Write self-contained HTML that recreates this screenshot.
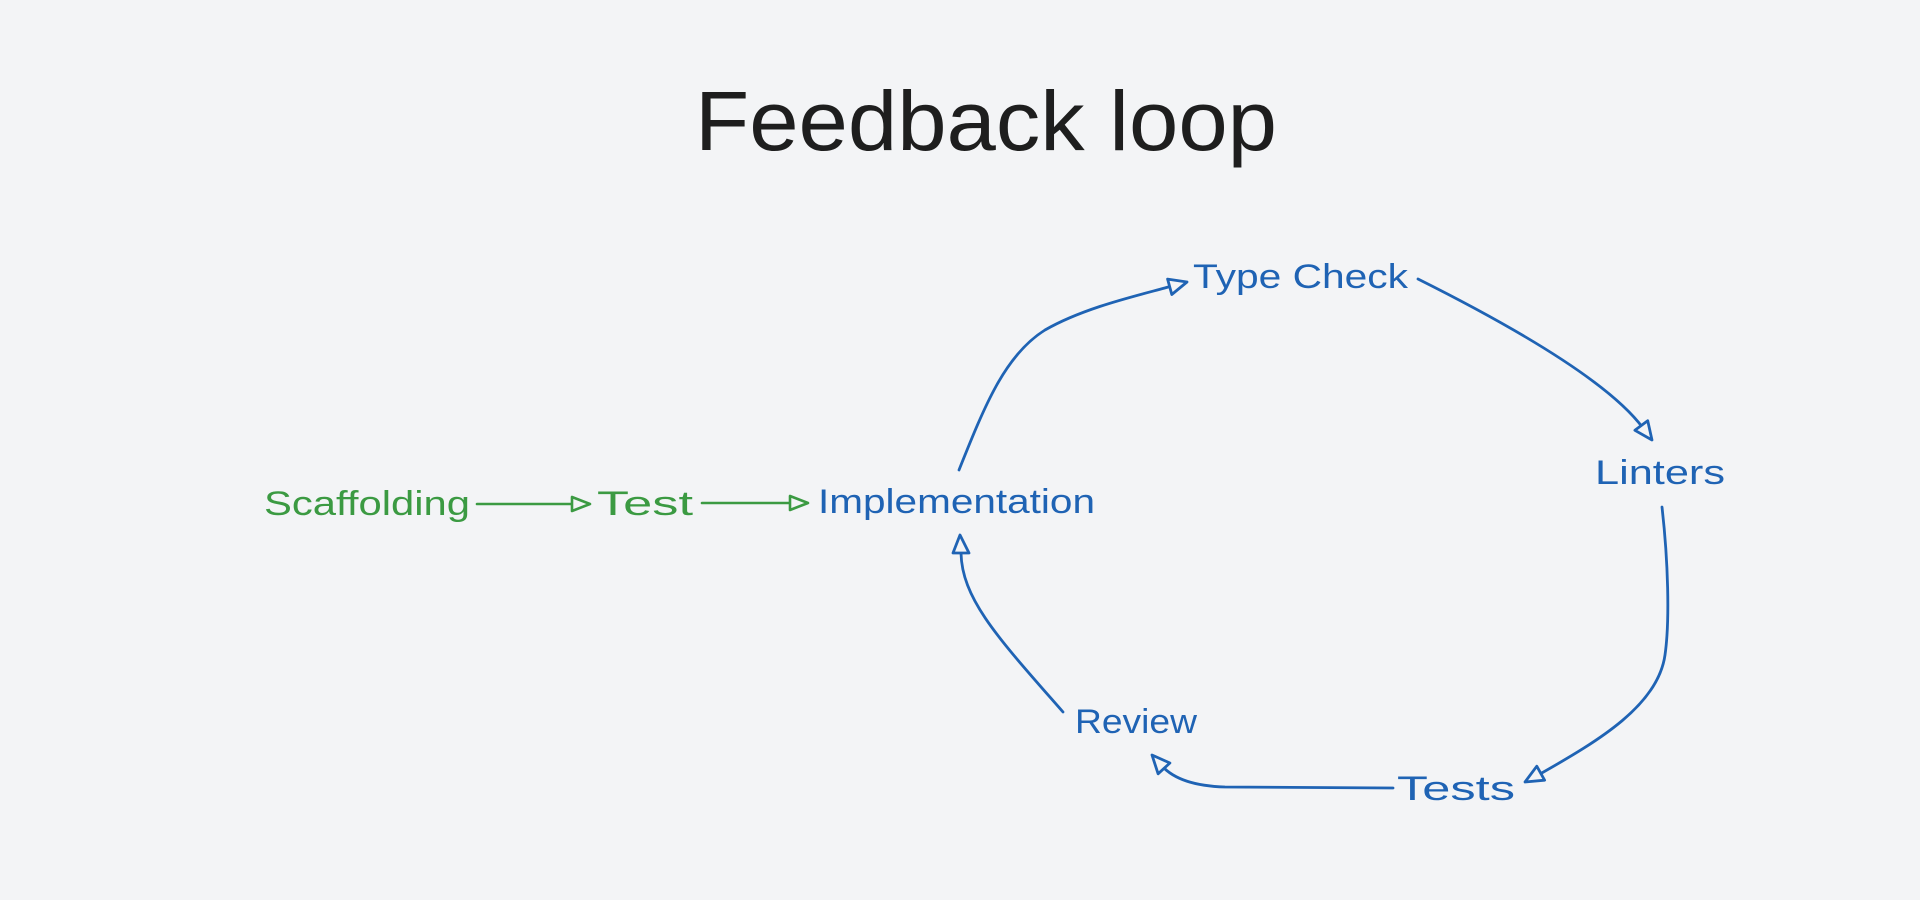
<!DOCTYPE html>
<html>
<head>
<meta charset="utf-8">
<style>
  html, body { margin: 0; padding: 0; background: #f3f4f6; }
  body { width: 1920px; height: 900px; overflow: hidden; }
  svg { display: block; }
  text { font-family: "Liberation Sans", "DejaVu Sans", sans-serif; }
</style>
</head>
<body>
<svg width="1920" height="900" viewBox="0 0 1920 900" xmlns="http://www.w3.org/2000/svg">
  <rect x="0" y="0" width="1920" height="900" fill="#f3f4f6"/>

  <!-- Title -->
  <text x="695" y="150" font-size="84" fill="#1e1e1e" textLength="582" lengthAdjust="spacingAndGlyphs">Feedback loop</text>

  <!-- Green labels -->
  <g fill="#3b9a42" font-size="34">
    <text x="264" y="515" textLength="206" lengthAdjust="spacingAndGlyphs">Scaffolding</text>
    <text x="597" y="515" textLength="96" lengthAdjust="spacingAndGlyphs">Test</text>
  </g>

  <!-- Blue labels -->
  <g fill="#1f63b4" font-size="34">
    <text x="818" y="513" textLength="277" lengthAdjust="spacingAndGlyphs">Implementation</text>
    <text x="1193" y="288" textLength="215" lengthAdjust="spacingAndGlyphs">Type Check</text>
    <text x="1595" y="484" textLength="130" lengthAdjust="spacingAndGlyphs">Linters</text>
    <text x="1397" y="800" textLength="118" lengthAdjust="spacingAndGlyphs">Tests</text>
    <text x="1075" y="733" textLength="122" lengthAdjust="spacingAndGlyphs">Review</text>
  </g>

  <!-- Green arrows -->
  <g stroke="#3b9a42" stroke-width="2.6" fill="none" stroke-linecap="round" stroke-linejoin="round">
    <path d="M477 504 L574 504"/>
    <polygon points="590,504 572,497 572,511" fill="#f3f4f6"/>
    <path d="M702 503 L792 503"/>
    <polygon points="808,503 790,496 790,510" fill="#f3f4f6"/>
  </g>

  <!-- Blue arrows -->
  <g stroke="#1f63b4" stroke-width="2.8" fill="none" stroke-linecap="round" stroke-linejoin="round">
    <!-- Implementation -> Type Check -->
    <path d="M959 470 C985 405 1005 355 1045 330 C1085 307 1140 295 1172 286"/>
    <polygon points="1187,282 1171.8,294.5 1167.6,279.1" fill="#f3f4f6"/>

    <!-- Type Check -> Linters -->
    <path d="M1418 279 Q1600 370 1643 428"/>
    <polygon points="1652,440 1634.9,430.3 1647.7,420.7" fill="#f3f4f6"/>

    <!-- Linters -> Tests -->
    <path d="M1662 507 C1668 560 1670 620 1665 655 C1658 705 1600 740 1540 774"/>
    <polygon points="1525,782 1536.8,766.2 1544.6,780.2" fill="#f3f4f6"/>

    <!-- Tests -> Review -->
    <path d="M1393 788 L1225 787 C1190 786 1172 777 1162 766"/>
    <polygon points="1152,755 1169.9,763 1158.1,773.8" fill="#f3f4f6"/>

    <!-- Review -> Implementation -->
    <path d="M1063 712 C1000 640 962 600 961 553"/>
    <polygon points="960,535 969,553 953,553" fill="#f3f4f6"/>
  </g>
</svg>
</body>
</html>
